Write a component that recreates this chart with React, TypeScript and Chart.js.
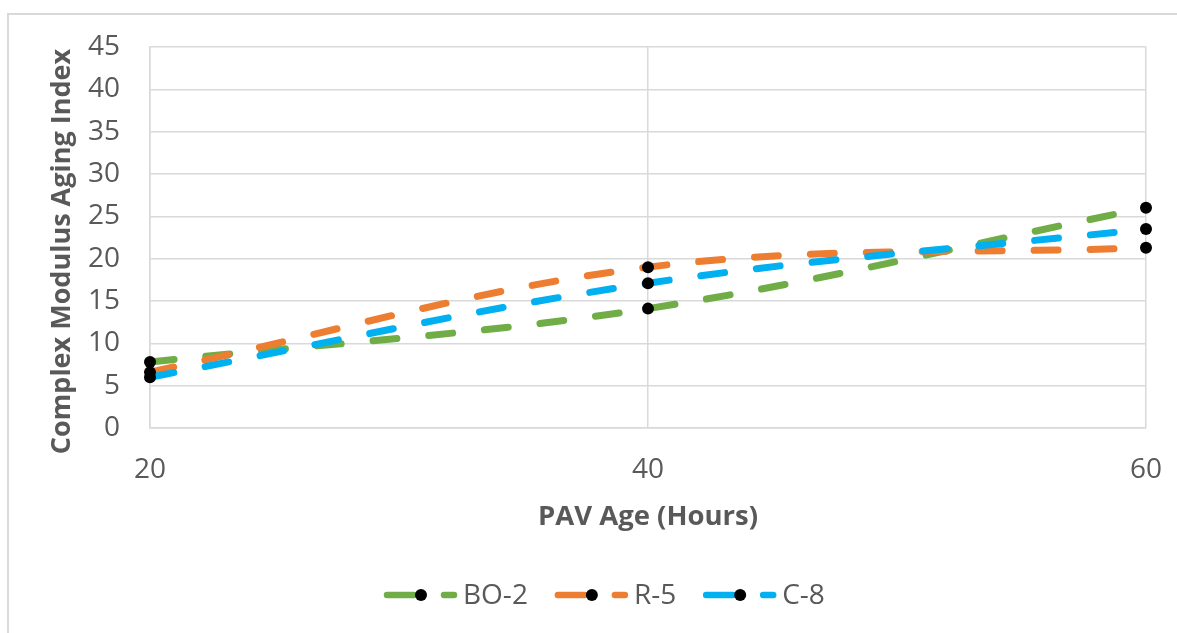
import React, { useEffect, useRef } from "react";
import { Chart, registerables } from "chart.js";

Chart.register(...registerables);

const pavAge = [20, 40, 60];
const bo2 = [7.8, 14.1, 26.0];
const r5 = [6.6, 19.0, 21.3];
const c8 = [6.0, 17.1, 23.5];
const seriesNames = ["BO-2", "R-5", "C-8"];
const seriesColors = ["#70AD47", "#ED7D31", "#00B0F0"];
const yTitle = "Complex Modulus Aging Index";
const xTitle = "PAV Age (Hours)";

const FONT = "'Open Sans', 'DejaVu Sans', sans-serif";
const TEXT = "#595959";
const GRID = "#D9D9D9";

const legendPlugin = {
  id: "customLegend",
  afterDraw(chart: any) {
    const ctx = chart.ctx;
    const y = 580;
    let x0 = 375;
    ctx.save();
    ctx.font = `28px ${FONT}`;
    ctx.textBaseline = "middle";
    ctx.textAlign = "left";
    seriesNames.forEach((name, i) => {
      ctx.strokeStyle = seriesColors[i];
      ctx.lineWidth = 6.5;
      ctx.lineCap = "round";
      ctx.setLineDash([]);
      ctx.beginPath();
      ctx.moveTo(x0 + 3, y);
      ctx.lineTo(x0 + 30, y);
      ctx.stroke();
      ctx.fillStyle = "#000";
      ctx.beginPath();
      ctx.arc(x0 + 37, y, 6, 0, Math.PI * 2);
      ctx.fill();
      ctx.beginPath();
      ctx.moveTo(x0 + 60, y);
      ctx.lineTo(x0 + 70, y);
      ctx.stroke();
      ctx.fillStyle = TEXT;
      ctx.fillText(name, x0 + 79, y + 1);
      const w = ctx.measureText(name).width;
      x0 = x0 + 79 + w + 27;
    });
    ctx.restore();
  },
};

export default function App() {
  const ref = useRef<HTMLCanvasElement>(null);

  useEffect(() => {
    if (!ref.current) return;
    const all = [bo2, r5, c8];
    const toPts = (arr: number[]) => arr.map((v, i) => ({ x: pavAge[i], y: v }));
    const lineSets = all.map((arr, i) => ({
      label: seriesNames[i],
      data: toPts(arr),
      borderColor: seriesColors[i],
      backgroundColor: seriesColors[i],
      borderWidth: 7,
      borderDash: [24, 32],
      borderCapStyle: "round" as const,
      tension: 0.35,
      pointRadius: 0,
      fill: false,
      clip: false as any,
      order: 3 - i,
    }));
    const markerSets = all.map((arr, i) => ({
      label: seriesNames[i] + " points",
      data: toPts(arr),
      showLine: false,
      pointRadius: 6,
      pointBackgroundColor: "#000",
      pointBorderColor: "#000",
      pointBorderWidth: 0,
      clip: false as any,
      order: 0,
    }));

    const chart = new Chart(ref.current, {
      type: "line",
      data: { datasets: [...lineSets, ...markerSets] as any },
      plugins: [legendPlugin],
      options: {
        responsive: false,
        animation: false,
        layout: { padding: { left: 0, top: 32, right: 31, bottom: 99 } },
        plugins: { legend: { display: false }, tooltip: { enabled: false } },
        scales: {
          x: {
            type: "linear",
            min: 20,
            max: 60,
            afterFit: (s: any) => {
              s.height = 106;
              s.paddingLeft = 0;
              s.paddingRight = 0;
            },
            ticks: {
              stepSize: 20,
              padding: 25,
              maxRotation: 0,
              color: TEXT,
              font: { family: FONT, size: 28 },
            },
            grid: { color: GRID, lineWidth: 1.5, drawTicks: false },
            border: { color: GRID, width: 1.5 },
            title: {
              display: true,
              text: xTitle,
              color: TEXT,
              font: { family: FONT, size: 27.5, weight: "bold" },
              padding: { top: 0, bottom: 0 },
            },
          },
          y: {
            min: 0,
            max: 45,
            afterFit: (s: any) => {
              s.width = 141;
              s.paddingTop = 0;
              s.paddingBottom = 0;
            },
            ticks: {
              stepSize: 5,
              padding: 30,
              color: TEXT,
              font: { family: FONT, size: 28 },
            },
            grid: { color: GRID, lineWidth: 1.5, drawTicks: false },
            border: { color: GRID, width: 1.5 },
            title: {
              display: true,
              text: yTitle + "    ",
              color: TEXT,
              font: { family: FONT, size: 27, weight: "bold" },
              padding: { top: 37, bottom: 0 },
            },
          },
        },
      },
    });
    return () => chart.destroy();
  }, []);

  return (
    <div
      style={{
        position: "fixed",
        left: 7,
        top: 13,
        width: 1172,
        height: 625,
        borderTop: "2px solid #D9D9D9",
        borderLeft: "2px solid #D9D9D9",
        background: "#fff",
      }}
    >
      <canvas
        ref={ref}
        width={1168}
        height={618}
        style={{ position: "absolute", left: 0, top: 0, width: 1168, height: 618 }}
      />
    </div>
  );
}
